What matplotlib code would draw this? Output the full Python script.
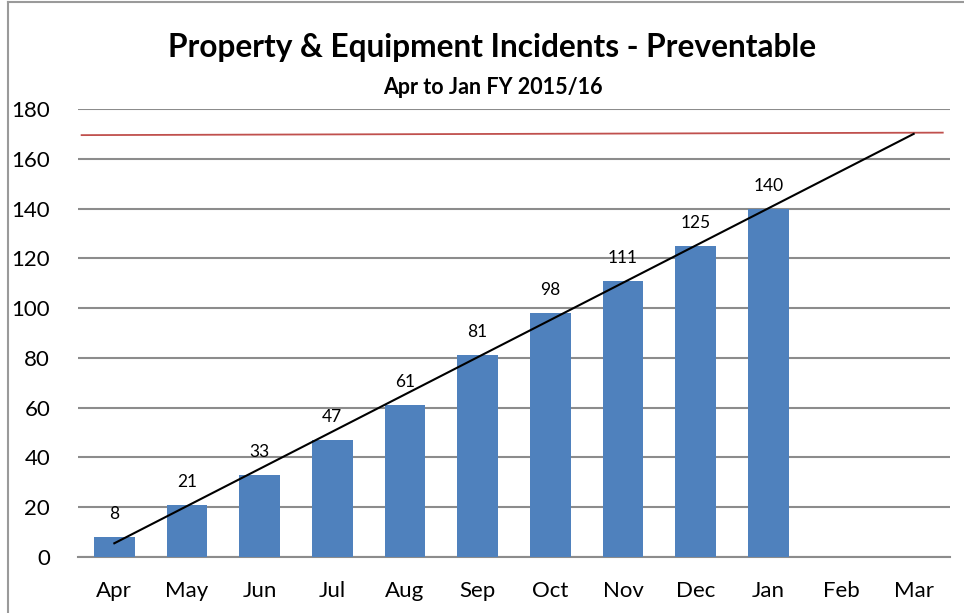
import matplotlib
matplotlib.use("Agg")
import matplotlib.pyplot as plt
from matplotlib.lines import Line2D

months = ["Apr", "May", "Jun", "Jul", "Aug", "Sep", "Oct", "Nov", "Dec", "Jan", "Feb", "Mar"]
incidents = [8, 21, 33, 47, 61, 81, 98, 111, 125, 140]
target_level = [169.5, 170.5]
trend_values = [5.5, 170]

plt.rcParams['font.family'] = ['Lato', 'DejaVu Sans']

fig = plt.figure(figsize=(9.64, 6.13), dpi=100)
ax = fig.add_axes([0.0809, 0.0914, 0.9046, 0.7308])

x = list(range(len(incidents)))
bars = ax.bar(x, incidents, width=0.56, color="#4F81BD", zorder=3)
for xi, v in zip(x, incidents):
    ax.text(xi, v + 6, str(v), ha="center", va="bottom", fontsize=12.5, color="black", zorder=5)

ax.plot([-0.45, 11.4], target_level, color="#C0504D", lw=1.3, zorder=4)
ax.plot([0, len(months) - 1], trend_values, color="black", lw=1.5, zorder=5)

ax.set_xlim(-0.5, 11.5)
ax.set_ylim(0, 180)
ax.set_yticks(range(0, 181, 20))
ax.set_xticks(range(len(months)))
ax.set_xticklabels(months)
ax.tick_params(axis='both', length=0, labelsize=16)
ax.tick_params(axis='y', pad=20)
ax.tick_params(axis='x', pad=17)
ax.yaxis.grid(True, color="#8C8C8C", lw=1.5, zorder=0)
for s in ["left", "right", "top"]:
    ax.spines[s].set_visible(False)
ax.spines["bottom"].set_color("#8C8C8C")
ax.spines["bottom"].set_linewidth(1.5)

fig.text(0.510, 1 - 47 / 613, "Property & Equipment Incidents - Preventable",
         ha="center", va="center", fontsize=22.8, fontweight="bold")
fig.text(0.511, 1 - 87 / 613, "Apr to Jan FY 2015/16",
         ha="center", va="center", fontsize=15.5, fontweight="bold")

fig.add_artist(Line2D([7.5 / 964, 7.5 / 964], [0, 1 - 2 / 613], transform=fig.transFigure, color="#9A9A9A", lw=1.5))
fig.add_artist(Line2D([7.5 / 964, 1], [1 - 2 / 613, 1 - 2 / 613], transform=fig.transFigure, color="#9A9A9A", lw=1.5))

fig.savefig("out.png", dpi=100)
